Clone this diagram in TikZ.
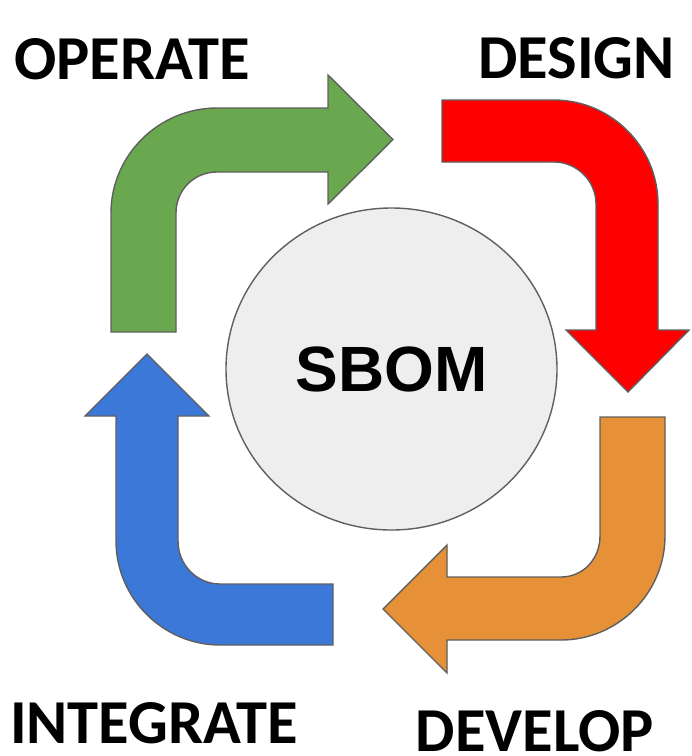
\documentclass[tikz,border=0pt]{standalone}
\usepackage{fontspec}
\usetikzlibrary{shapes.geometric}
\newfontfamily\phasefont{Carlito}
\newfontfamily\sbomfont{Liberation Sans}
\definecolor{opgreen}{HTML}{6AA84F}
\definecolor{dsred}{HTML}{FF0000}
\definecolor{dvorange}{HTML}{E69138}
\definecolor{inblue}{HTML}{3C78D8}
\definecolor{edgegray}{HTML}{5F5F5F}
\definecolor{hubgray}{HTML}{EEEEEE}

\begin{document}
\begin{tikzpicture}[x=1pt,y=-1pt,line join=miter,arrow shape/.style={draw=edgegray,line width=1.4pt},hub/.style={ellipse,draw=edgegray,line width=1.4pt,fill=hubgray,minimum width=331pt,minimum height=322pt,inner sep=0pt,font=\sbomfont\bfseries\fontsize{64}{77}\selectfont},phase label/.style={anchor=base,inner sep=0pt,font=\phasefont\bfseries\fontsize{62.5}{75}\selectfont}]
    \useasboundingbox (0,0) rectangle (692,756);

    % operate (green, up then right)
    \draw[arrow shape,fill=opgreen] (111,332) -- (111,213) .. controls (111,155) and (159,108) .. (217,108) -- (328,108) -- (328,75) -- (393,139.5) -- (328,204) -- (328,172) -- (217,172) .. controls (194,172) and (176,190) .. (176,213) -- (176,332) -- cycle;
    % design (red, right then down)
    \draw[arrow shape,fill=dsred] (442,100) -- (554,100) .. controls (611,100) and (658,147) .. (658,204) -- (658,330) -- (689,330) -- (628,392) -- (566,330) -- (596,330) -- (596,204) .. controls (596,181) and (577,162) .. (554,162) -- (442,162) -- cycle;
    % develop (orange, down then left)
    \draw[arrow shape,fill=dvorange] (600,417) -- (665,417) -- (665,536) .. controls (665,593) and (618,640) .. (561,640) -- (447,640) -- (447,673) -- (383,609) -- (447,545) -- (447,577) -- (561,577) .. controls (583,577) and (600,559) .. (600,536) -- cycle;
    % integrate (blue, left then up)
    \draw[arrow shape,fill=inblue] (333,645) -- (220,645) .. controls (163,645) and (116,598) .. (116,541) -- (116,416) -- (85,416) -- (147,354) -- (209,416) -- (178,416) -- (178,541) .. controls (178,565) and (197,584) .. (220,584) -- (333,584) -- cycle;

    \node[hub] (sbom) at (391.5,369) {SBOM};

    \node[phase label] (operate) at (132,79) {OPERATE};
    \node[phase label] (design) at (576.5,78) {DESIGN};
    \node[phase label] (integrate) at (154,743) {INTEGRATE};
    \node[phase label] (develop) at (535,751) {DEVELOP};
\end{tikzpicture}
\end{document}
